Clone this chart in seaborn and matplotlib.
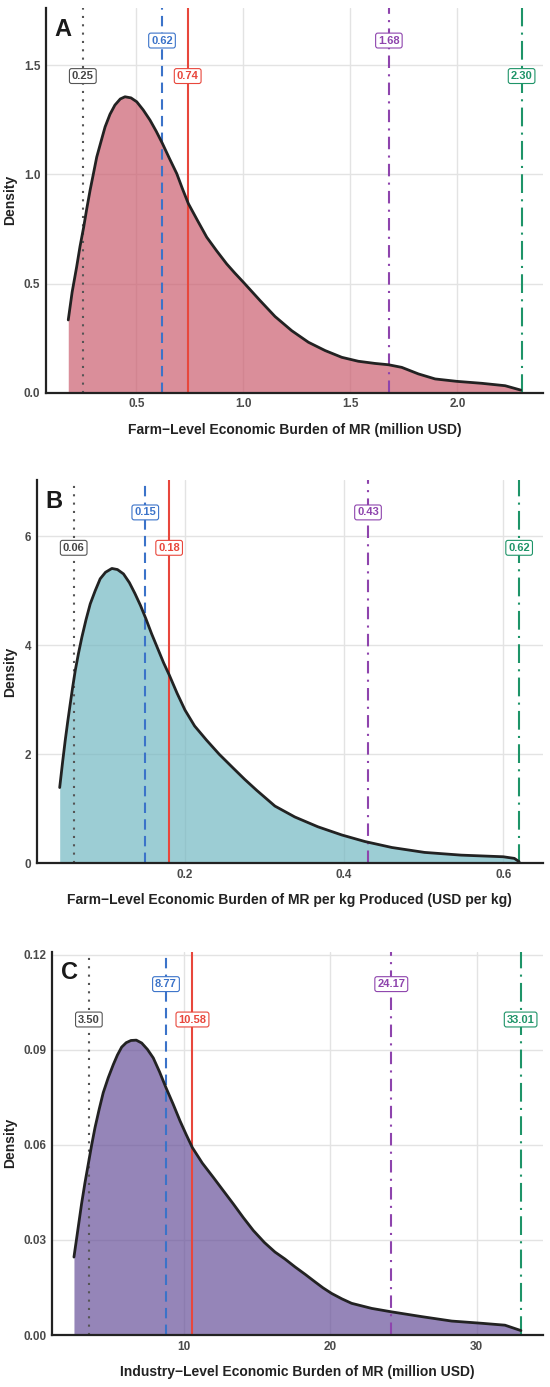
import numpy as np
import pandas as pd
import matplotlib
matplotlib.use("Agg")
import matplotlib.pyplot as plt
import seaborn as sns

# ---------------- data ----------------
# Panel A: farm-level burden (million USD)
a_x = [0.182, 0.20, 0.221, 0.237, 0.254, 0.268, 0.284, 0.30, 0.315, 0.335, 0.354,
       0.377, 0.40, 0.425, 0.447, 0.475, 0.502, 0.532, 0.564, 0.593, 0.622, 0.655,
       0.689, 0.715, 0.743, 0.785, 0.829, 0.875, 0.922, 0.96, 1.0, 1.078, 1.148,
       1.226, 1.304, 1.382, 1.46, 1.537, 1.615, 1.678, 1.74, 1.818, 1.896, 1.997,
       2.114, 2.223, 2.296]
a_y = [0.333, 0.46, 0.575, 0.67, 0.758, 0.84, 0.927, 1.005, 1.079, 1.15, 1.217,
       1.275, 1.317, 1.345, 1.355, 1.350, 1.332, 1.295, 1.248, 1.197, 1.141, 1.072,
       1.003, 0.935, 0.866, 0.79, 0.712, 0.65, 0.590, 0.548, 0.506, 0.422, 0.349,
       0.284, 0.231, 0.193, 0.162, 0.144, 0.134, 0.128, 0.116, 0.086, 0.063, 0.052,
       0.043, 0.032, 0.012]
a_stats = [0.25, 0.62, 0.74, 1.68, 2.30]

# Panel B: farm-level burden per kg (USD per kg)
b_x = [0.0424, 0.046, 0.0494, 0.0525, 0.0557, 0.0588, 0.062, 0.066, 0.0703, 0.0755,
       0.0808, 0.087, 0.0933, 0.100, 0.108, 0.115, 0.1226, 0.130, 0.137, 0.144,
       0.1507, 0.158, 0.1665, 0.173, 0.1803, 0.19, 0.2, 0.212, 0.227, 0.243, 0.261,
       0.275, 0.29, 0.313, 0.338, 0.367, 0.397, 0.426, 0.46, 0.501, 0.547, 0.60,
       0.614, 0.62]
b_y = [1.39, 1.85, 2.26, 2.6, 2.93, 3.24, 3.54, 3.85, 4.15, 4.47,
       4.76, 5.0, 5.22, 5.34, 5.41, 5.39, 5.31, 5.15, 4.95, 4.73,
       4.49, 4.21, 3.91, 3.68, 3.45, 3.12, 2.81, 2.52, 2.26, 2.0, 1.74,
       1.54, 1.34, 1.05, 0.85, 0.67, 0.52, 0.40, 0.29, 0.20, 0.15, 0.12,
       0.09, 0.03]
b_stats = [0.06, 0.15, 0.18, 0.43, 0.62]

# Panel C: industry-level burden (million USD)
c_x = [2.48, 2.74, 3.0, 3.23, 3.46, 3.69, 3.92, 4.2, 4.48, 4.82, 5.17, 5.45, 5.74,
       6.05, 6.38, 6.74, 7.11, 7.5, 7.9, 8.33, 8.77, 9.25, 9.73, 10.15, 10.57,
       11.25, 12.0, 12.7, 13.37, 14.05, 14.74, 15.5, 16.22, 16.9, 17.59, 18.3,
       18.95, 19.5, 20.1, 20.8, 21.46, 22.83, 24.2, 26.25, 28.3, 30.35, 31.94, 33.03]
c_y = [0.0246, 0.033, 0.0414, 0.048, 0.054, 0.060, 0.0655, 0.0712, 0.0765, 0.0812,
       0.0854, 0.0884, 0.0909, 0.0923, 0.093, 0.0931, 0.0922, 0.0902, 0.0875, 0.0831,
       0.0781, 0.073, 0.0676, 0.0633, 0.0592, 0.0543, 0.0498, 0.0455, 0.0414, 0.0371,
       0.033, 0.0292, 0.0262, 0.0240, 0.0215, 0.0191, 0.0168, 0.0149, 0.0131, 0.0114,
       0.0100, 0.0084, 0.0073, 0.0058, 0.0044, 0.0037, 0.0031, 0.0014]
c_stats = [3.50, 8.77, 10.58, 24.17, 33.01]

stat_names = ["5th percentile", "Median", "Mean", "95th percentile", "Maximum"]
panel_letters = ["A", "B", "C"]
x_labels = ["Farm\u2212Level Economic Burden of MR (million USD)",
            "Farm\u2212Level Economic Burden of MR per kg Produced (USD per kg)",
            "Industry\u2212Level Economic Burden of MR (million USD)"]
x_ticks = [[0.5, 1.0, 1.5, 2.0], [0.2, 0.4, 0.6], [10, 20, 30]]
y_ticks = [[0.0, 0.5, 1.0, 1.5], [0, 2, 4, 6], [0.00, 0.03, 0.06, 0.09, 0.12]]
y_fmt = ["{:.1f}", "{:.0f}", "{:.2f}"]
x_fmt = ["{:.1f}", "{:.1f}", "{:.0f}"]
x_lims = [(0.078, 2.40), (0.0135, 0.650), (1.0, 34.56)]

# ---------------- styling ----------------
fill_colors = ["#CB5E6F", "#73B8C2", "#68519A"]
stat_colors = ["#555555", "#3B73C9", "#E8473C", "#8E44AD", "#1E9468"]
stat_text_colors = ["#444444", "#3B73C9", "#E8473C", "#8E44AD", "#1E9468"]
stat_styles = [(0, (1, 3)), (0, (5, 3)), "-", (0, (6, 3, 1, 3)), (0, (9, 3, 1, 3))]
label_levels = [1.07, 1.19, 1.07, 1.19, 1.07]  # times the peak density

sns.set_theme(style="whitegrid")
plt.rcParams["font.family"] = ["Liberation Sans", "DejaVu Sans"]

fig = plt.figure(figsize=(5.5, 13.87), dpi=100)
positions = [
    [46 / 550, 1 - 392.7 / 1387, (543 - 46) / 550, (392.7 - 8) / 1387],
    [36.7 / 550, 1 - 863.3 / 1387, (543 - 36.7) / 550, (863.3 - 480) / 1387],
    [52.3 / 550, 1 - 1335 / 1387, (543.3 - 52.3) / 550, (1335 - 951.7) / 1387],
]
letter_x = [0.016, 0.017, 0.017]

curves = [(a_x, a_y, a_stats), (b_x, b_y, b_stats), (c_x, c_y, c_stats)]

for i, (xs, ys, stats) in enumerate(curves):
    ax = fig.add_axes(positions[i])
    df = pd.DataFrame({"value": xs, "density": ys})
    peak = max(ys)

    ax.fill_between(df["value"], 0, df["density"], color=fill_colors[i],
                    alpha=0.7, linewidth=0, zorder=2)
    sns.lineplot(data=df, x="value", y="density", ax=ax, color="#222222",
                 linewidth=2.0, zorder=4, sort=False)
    ax.lines[-1].set_solid_joinstyle("round")

    for k, v in enumerate(stats):
        ax.axvline(v, color=stat_colors[k], linestyle=stat_styles[k],
                   linewidth=1.5, zorder=3)
        ax.text(v, peak * label_levels[k], f"{v:.2f}", ha="center", va="center",
                fontsize=8, fontweight="bold", color=stat_text_colors[k], zorder=6,
                bbox=dict(boxstyle="round,pad=0.22,rounding_size=0.2",
                          facecolor="white", edgecolor=stat_colors[k], linewidth=0.8))

    ax.set_xlim(*x_lims[i])
    ax.set_ylim(0, peak * 1.3)
    ax.set_xticks(x_ticks[i])
    ax.set_xticklabels([x_fmt[i].format(t) for t in x_ticks[i]])
    ax.set_yticks(y_ticks[i])
    ax.set_yticklabels([y_fmt[i].format(t) for t in y_ticks[i]])
    ax.tick_params(axis="both", length=0, labelsize=8.5, labelcolor="#4A4A4A", pad=4)
    for lab in ax.get_xticklabels() + ax.get_yticklabels():
        lab.set_fontweight("bold")

    ax.set_xlabel(x_labels[i], fontsize=10, fontweight="bold", color="#222222",
                  labelpad=9)
    ax.set_ylabel("Density", fontsize=10, fontweight="bold", color="#222222",
                  labelpad=5)

    ax.set_facecolor("white")
    ax.grid(True, color="#E3E3E3", linewidth=1.0, zorder=0)
    ax.set_axisbelow(True)
    for side in ["top", "right"]:
        ax.spines[side].set_visible(False)
    for side in ["left", "bottom"]:
        ax.spines[side].set_visible(True)
        ax.spines[side].set_color("#222222")
        ax.spines[side].set_linewidth(1.6)
        ax.spines[side].set_zorder(5)

    ax.text(letter_x[i], 0.975, panel_letters[i], transform=ax.transAxes, fontsize=17,
            fontweight="bold", color="#1A1A1A", ha="left", va="top", zorder=7)

fig.savefig("out.png", dpi=100, facecolor="white")
